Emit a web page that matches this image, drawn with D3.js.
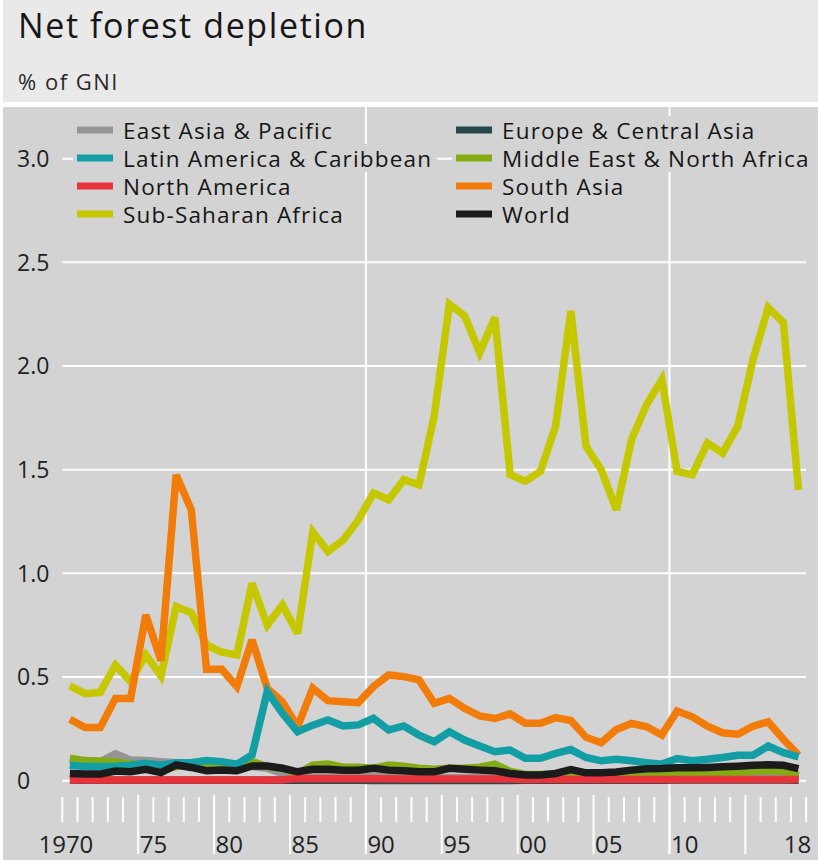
<!DOCTYPE html>
<html>
<head>
<meta charset="utf-8">
<script src="https://cdn.jsdelivr.net/npm/d3@7"></script>
<style>
  html, body { margin: 0; padding: 0; background: #ffffff; }
  svg { display: block; }
  text { font-family: "Open Sans", "Noto Sans", sans-serif; }
</style>
</head>
<body>
<svg id="chart" width="818" height="860"></svg>
<script>
// ---------------- DATA ----------------
const years = d3.range(1970, 2019);

const seriesNames = [
  "East Asia & Pacific", "Europe & Central Asia", "Latin America & Caribbean",
  "Middle East & North Africa", "North America", "South Asia",
  "Sub-Saharan Africa", "World"
];

const eastAsiaPacific = [
  0.100, 0.092, 0.092, 0.129, 0.100, 0.097, 0.092, 0.087, 0.087, 0.087,
  0.084, 0.076, 0.068, 0.060, 0.035, 0.027, 0.020, 0.020, 0.020, 0.020,
  0.020, 0.020, 0.018, 0.018, 0.015, 0.015, 0.015, 0.015, 0.015, 0.012,
  0.010, 0.010, 0.010, 0.010, 0.010, 0.010, 0.010, 0.012, 0.012, 0.012,
  0.012, 0.012, 0.012, 0.015, 0.015, 0.018, 0.020, 0.020, 0.010
];
const europeCentralAsia = [
  0.002, 0.002, 0.002, 0.002, 0.002, 0.002, 0.002, 0.002, 0.002, 0.002,
  0.002, 0.002, 0.002, 0.002, 0.002, 0.002, 0.002, 0.002, 0.002, 0.002,
  0.001, 0.001, 0.001, 0.001, 0.001, 0.001, 0.001, 0.001, 0.001, 0.001,
  0.002, 0.002, 0.002, 0.002, 0.002, 0.002, 0.002, 0.002, 0.002, 0.002,
  0.003, 0.003, 0.003, 0.003, 0.003, 0.003, 0.003, 0.003, 0.002
];
const latinAmericaCaribbean = [
  0.075, 0.068, 0.068, 0.070, 0.075, 0.084, 0.075, 0.087, 0.087, 0.097,
  0.092, 0.080, 0.124, 0.430, 0.325, 0.236, 0.268, 0.293, 0.264, 0.269,
  0.301, 0.245, 0.264, 0.220, 0.188, 0.236, 0.196, 0.167, 0.140, 0.148,
  0.108, 0.108, 0.132, 0.150, 0.112, 0.096, 0.103, 0.096, 0.087, 0.080,
  0.107, 0.096, 0.103, 0.112, 0.123, 0.123, 0.167, 0.135, 0.115
];
const middleEastNorthAfrica = [
  0.108, 0.097, 0.095, 0.092, 0.080, 0.075, 0.050, 0.068, 0.087, 0.080,
  0.075, 0.075, 0.092, 0.068, 0.060, 0.035, 0.075, 0.080, 0.065, 0.065,
  0.060, 0.075, 0.070, 0.060, 0.055, 0.060, 0.060, 0.065, 0.080, 0.045,
  0.030, 0.030, 0.030, 0.035, 0.030, 0.030, 0.030, 0.030, 0.035, 0.035,
  0.035, 0.035, 0.035, 0.035, 0.040, 0.045, 0.048, 0.045, 0.025
];
const northAmerica = [
  0.003, 0.003, 0.003, 0.003, 0.003, 0.003, 0.003, 0.003, 0.003, 0.003,
  0.003, 0.003, 0.003, 0.003, 0.005, 0.010, 0.010, 0.010, 0.010, 0.010,
  0.010, 0.010, 0.008, 0.008, 0.008, 0.008, 0.008, 0.008, 0.008, 0.008,
  0.006, 0.006, 0.006, 0.006, 0.006, 0.006, 0.006, 0.006, 0.006, 0.006,
  0.006, 0.006, 0.006, 0.006, 0.006, 0.006, 0.006, 0.006, 0.006
];
const southAsia = [
  0.296, 0.256, 0.256, 0.397, 0.397, 0.800, 0.580, 1.475, 1.306, 0.537,
  0.537, 0.454, 0.679, 0.446, 0.380, 0.260, 0.446, 0.386, 0.381, 0.376,
  0.454, 0.510, 0.502, 0.486, 0.373, 0.397, 0.349, 0.312, 0.300, 0.322,
  0.277, 0.277, 0.304, 0.290, 0.210, 0.183, 0.247, 0.276, 0.260, 0.220,
  0.336, 0.308, 0.263, 0.231, 0.224, 0.263, 0.284, 0.200, 0.123
];
const subSaharanAfrica = [
  0.457, 0.420, 0.426, 0.558, 0.478, 0.607, 0.505, 0.840, 0.810, 0.655,
  0.620, 0.607, 0.952, 0.750, 0.848, 0.710, 1.200, 1.105, 1.160, 1.258,
  1.387, 1.355, 1.452, 1.427, 1.758, 2.298, 2.242, 2.065, 2.234, 1.476,
  1.444, 1.492, 1.710, 2.266, 1.613, 1.500, 1.306, 1.645, 1.815, 1.935,
  1.492, 1.476, 1.629, 1.580, 1.710, 2.030, 2.282, 2.210, 1.403
];
const world = [
  0.035, 0.032, 0.032, 0.047, 0.043, 0.055, 0.039, 0.076, 0.064, 0.048,
  0.051, 0.048, 0.071, 0.071, 0.060, 0.043, 0.055, 0.055, 0.051, 0.051,
  0.060, 0.051, 0.048, 0.043, 0.043, 0.060, 0.055, 0.051, 0.048, 0.035,
  0.027, 0.027, 0.035, 0.054, 0.038, 0.038, 0.042, 0.051, 0.058, 0.059,
  0.0625, 0.0625, 0.064, 0.067, 0.070, 0.074, 0.077, 0.074, 0.058
];

const yTicks = [0, 0.5, 1.0, 1.5, 2.0, 2.5, 3.0];
const yTickLabels = ["0", "0.5", "1.0", "1.5", "2.0", "2.5", "3.0"];
const xLabelYears = [1970, 1975, 1980, 1985, 1990, 1995, 2000, 2005, 2010, 2018];
const xLabels = ["1970", "75", "80", "85", "90", "95", "00", "05", "10", "18"];
const gridYears = [1990, 2010];

const title = "Net forest depletion";
const subtitle = "% of GNI";

// ---------------- STYLE ----------------
const colors = {
  "East Asia & Pacific": "#959595",
  "Europe & Central Asia": "#27494b",
  "Latin America & Caribbean": "#129ea4",
  "Middle East & North Africa": "#85ab14",
  "North America": "#e8333b",
  "South Asia": "#f27c0a",
  "Sub-Saharan Africa": "#c5c700",
  "World": "#1b1b1b"
};
const valuesByName = {
  "East Asia & Pacific": eastAsiaPacific,
  "Europe & Central Asia": europeCentralAsia,
  "Latin America & Caribbean": latinAmericaCaribbean,
  "Middle East & North Africa": middleEastNorthAfrica,
  "North America": northAmerica,
  "South Asia": southAsia,
  "Sub-Saharan Africa": subSaharanAfrica,
  "World": world
};
const drawOrder = [
  "Sub-Saharan Africa", "South Asia", "East Asia & Pacific",
  "Middle East & North Africa", "Latin America & Caribbean",
  "Europe & Central Asia", "North America", "World"
];

const W = 818, H = 860;
const svg = d3.select("#chart");

// panels
svg.append("rect").attr("x", 3).attr("y", 0).attr("width", W - 3).attr("height", 102).attr("fill", "#e9e9e9");
svg.append("rect").attr("x", 3).attr("y", 107).attr("width", W - 3).attr("height", H - 107).attr("fill", "#d3d3d3");

function fitText(sel, target) {
  const node = sel.node();
  const n = sel.text().length;
  const w = node.getComputedTextLength();
  sel.attr("letter-spacing", ((target - w) / n).toFixed(2));
}

const t1 = svg.append("text").attr("x", 18).attr("y", 38)
  .attr("font-size", 34).attr("fill", "#161616").text(title);
fitText(t1, 350);
const t2 = svg.append("text").attr("x", 18).attr("y", 90)
  .attr("font-size", 22).attr("fill", "#2a2a2a").text(subtitle);
fitText(t2, 101);

// scales
const x = d3.scaleBand().domain(years).range([62.3, 806.1]).paddingInner(0).paddingOuter(0);
const bw = x.bandwidth();
const xc = yr => x(yr) + bw / 2;
const y = d3.scaleLinear().domain([0, 3]).range([780.7, 158.7]);

const g = svg.append("g");

// horizontal gridlines
g.selectAll("line.hgrid").data(yTicks).join("line")
  .attr("x1", x.range()[0]).attr("x2", x.range()[1])
  .attr("y1", d => y(d)).attr("y2", d => y(d))
  .attr("stroke", "#ffffff").attr("stroke-width", 2);

// vertical gridlines
g.selectAll("line.vgrid").data(gridYears).join("line")
  .attr("x1", d => x(d)).attr("x2", d => x(d))
  .attr("y1", 107).attr("y2", 854)
  .attr("stroke", "#ffffff").attr("stroke-width", 2);

// x ticks at band boundaries
const boundaryYears = years.concat([2019]);
g.selectAll("line.xtick").data(boundaryYears).join("line")
  .attr("x1", d => d === 2019 ? x.range()[1] : x(d))
  .attr("x2", d => d === 2019 ? x.range()[1] : x(d))
  .attr("y1", d => (d % 5 === 0 && d !== 1970 && d !== 2019) ? 795 : 797)
  .attr("y2", d => (d % 5 === 0 && d !== 1970 && d !== 2019) ? 854 : 822)
  .attr("stroke", "#ffffff").attr("stroke-width", 2);

// x labels
g.selectAll("text.xlab").data(xLabelYears).join("text")
  .attr("x", d => d === 1970 ? xc(d) - 4 : (d === 2018 ? xc(d) - 1 : x(d) + 1.5))
  .attr("y", 853)
  .attr("text-anchor", d => (d === 1970 || d === 2018) ? "middle" : "start")
  .attr("font-size", 24).attr("fill", "#222")
  .text((d, i) => xLabels[i]);

// y labels
g.selectAll("text.ylab").data(yTicks).join("text")
  .attr("x", 17).attr("y", d => y(d)).attr("dy", "0.36em")
  .attr("font-size", 23).attr("fill", "#222")
  .text((d, i) => yTickLabels[i]);

// legend
const legendCols = [
  ["East Asia & Pacific", "Latin America & Caribbean", "North America", "Sub-Saharan Africa"],
  ["Europe & Central Asia", "Middle East & North Africa", "South Asia", "World"]
];
const colX = [77, 456];
const legend = svg.append("g");
let spacing = null;
legendCols.forEach((col, ci) => {
  col.forEach((name, ri) => {
    const cy = 130 + ri * 28;
    const item = legend.append("g");
    const bg = item.append("rect").attr("fill", "#d3d3d3");
    item.append("rect").attr("x", colX[ci]).attr("y", cy - 3.5)
      .attr("width", 36).attr("height", 7).attr("fill", colors[name]);
    const tx = item.append("text").attr("x", colX[ci] + 46).attr("y", cy + 9)
      .attr("font-size", 22.5).attr("fill", "#161616").text(name);
    if (spacing === null) {
      const w0 = tx.node().getComputedTextLength();
      spacing = (210 - w0) / name.length;
    }
    tx.attr("letter-spacing", spacing.toFixed(2));
    const tw = tx.node().getComputedTextLength();
    bg.attr("x", colX[ci] - 4).attr("y", cy - 14)
      .attr("width", 46 + tw + 9).attr("height", 28);
  });
});

// lines
const line = d3.line()
  .x((d, i) => xc(years[i]))
  .y(d => y(d));
const lg = svg.append("g");
drawOrder.forEach(name => {
  lg.append("path")
    .datum(valuesByName[name])
    .attr("d", line)
    .attr("fill", "none")
    .attr("stroke", colors[name])
    .attr("stroke-width", 7.5)
    .attr("stroke-linejoin", "miter")
    .attr("stroke-miterlimit", 3);
});
</script>
</body>
</html>
